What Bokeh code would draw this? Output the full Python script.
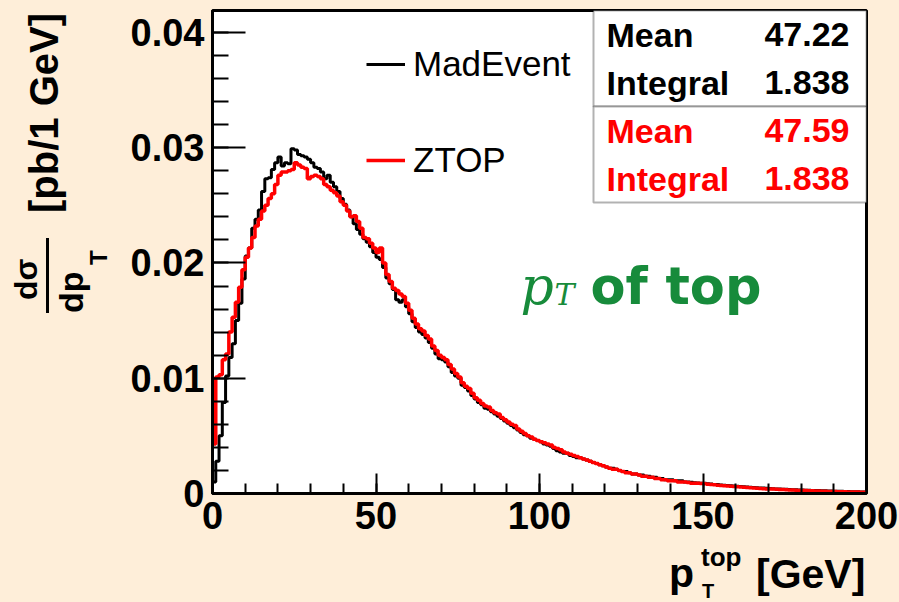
import numpy as np
from bokeh.plotting import figure
from bokeh.layouts import row, column
from bokeh.models import (FixedTicker, CustomJSTickFormatter, Label, BoxAnnotation,
                          Legend, LegendItem, Div)
from bokeh.embed import file_html
from bokeh.resources import INLINE

# ---------------- data ----------------
bin_low = 0.0
bin_width = 1.0  # GeV

madevent = [
    0.0010, 0.0028, 0.0050, 0.0079, 0.0102, 0.0118, 0.0130, 0.0150, 0.0165, 0.0186,
    0.0206, 0.0213, 0.0230, 0.0238, 0.0246, 0.0262, 0.0273, 0.0274, 0.0281, 0.0287,
    0.0292, 0.0284, 0.0287, 0.0286, 0.0299, 0.0298, 0.0294, 0.0293, 0.0292, 0.0290,
    0.0287, 0.0283, 0.0282, 0.0279, 0.0273, 0.0276, 0.0270, 0.0266, 0.0262, 0.0256,
    0.0251, 0.0246, 0.0240, 0.0234, 0.0229, 0.0225, 0.0221, 0.0218, 0.0214, 0.0209,
    0.0205, 0.0203, 0.0196, 0.0187, 0.0182, 0.0177, 0.0168, 0.0166, 0.0168, 0.0162,
    0.0156, 0.0149, 0.0144, 0.0140, 0.0138, 0.0135, 0.0131, 0.0126, 0.0121, 0.0117,
    0.0116, 0.0114, 0.0110, 0.0105, 0.0102, 0.0100, 0.0094, 0.0092, 0.0089, 0.0085,
    0.0082, 0.0079, 0.0077, 0.0074, 0.0073, 0.0071, 0.0069, 0.0067, 0.0065, 0.0063,
    0.0061, 0.0059, 0.0057, 0.0055, 0.0053, 0.0051, 0.0050, 0.0048, 0.0047, 0.0046,
    0.0045, 0.0043, 0.0042, 0.0041, 0.0039, 0.0037, 0.0036, 0.0035, 0.0035, 0.0033,
    0.0032, 0.0031, 0.0031, 0.0030, 0.0029, 0.0028, 0.0027, 0.0026, 0.0025, 0.0024,
    0.0023, 0.0022, 0.0022, 0.0021, 0.0020, 0.0019, 0.0019, 0.0018, 0.0017, 0.0017,
    0.0016, 0.0016, 0.0015, 0.0015, 0.0014, 0.0014, 0.0013, 0.0013, 0.0012, 0.0012,
    0.0012, 0.0011, 0.0011, 0.0011, 0.0010, 0.0010, 0.00098, 0.00094, 0.00092, 0.00090,
    0.00088, 0.00085, 0.00082, 0.00079, 0.00077, 0.00074, 0.00072, 0.00069, 0.00067, 0.00065,
    0.00062, 0.00060, 0.00058, 0.00056, 0.00054, 0.00052, 0.00050, 0.00048, 0.00047, 0.00045,
    0.00043, 0.00042, 0.00040, 0.00039, 0.00037, 0.00036, 0.00035, 0.00033, 0.00032, 0.00031,
    0.00030, 0.00029, 0.00028, 0.00027, 0.00026, 0.00025, 0.00024, 0.00023, 0.00022, 0.00021,
    0.00020, 0.00019, 0.00019, 0.00018, 0.00017, 0.00016, 0.00016, 0.00015, 0.00014, 0.00014,
]

ztop = [
    0.0043, 0.0101, 0.0103, 0.0116, 0.0121, 0.0140, 0.0153, 0.0166, 0.0179, 0.0194,
    0.0205, 0.0213, 0.0222, 0.0232, 0.0238, 0.0245, 0.0250, 0.0256, 0.0260, 0.0268,
    0.0276, 0.0279, 0.0279, 0.0280, 0.0281, 0.0287, 0.0285, 0.0283, 0.0282, 0.0273,
    0.0275, 0.0276, 0.0275, 0.0273, 0.0268, 0.0266, 0.0263, 0.0261, 0.0258, 0.0253,
    0.0250, 0.0245, 0.0240, 0.0241, 0.0236, 0.0230, 0.0222, 0.0221, 0.0217, 0.0213,
    0.0209, 0.0213, 0.0200, 0.0190, 0.0184, 0.0178, 0.0176, 0.0173, 0.0171, 0.0165,
    0.0159, 0.0152, 0.0147, 0.0143, 0.0141, 0.0137, 0.0134, 0.0128, 0.0124, 0.0120,
    0.0118, 0.0116, 0.0112, 0.0108, 0.0104, 0.0101, 0.0096, 0.0093, 0.0091, 0.0087,
    0.0083, 0.0081, 0.0078, 0.0076, 0.0075, 0.0072, 0.0070, 0.0069, 0.0066, 0.0064,
    0.0062, 0.0060, 0.0059, 0.0056, 0.0054, 0.0052, 0.0050, 0.0049, 0.0047, 0.0046,
    0.0045, 0.0044, 0.0043, 0.0042, 0.0040, 0.0039, 0.0038, 0.0036, 0.0035, 0.0034,
    0.0033, 0.0032, 0.0031, 0.0030, 0.0029, 0.0028, 0.0027, 0.0026, 0.0025, 0.0024,
    0.0023, 0.0022, 0.0021, 0.0021, 0.0020, 0.0019, 0.0018, 0.0018, 0.0017, 0.0017,
    0.0016, 0.0015, 0.0015, 0.0014, 0.0014, 0.0013, 0.0013, 0.0012, 0.0012, 0.0011,
    0.0011, 0.0011, 0.0010, 0.0010, 0.0010, 0.00095, 0.00090, 0.00090, 0.00088, 0.00086,
    0.00084, 0.00080, 0.00078, 0.00075, 0.00072, 0.00070, 0.00068, 0.00065, 0.00063, 0.00060,
    0.00058, 0.00056, 0.00054, 0.00052, 0.00050, 0.00048, 0.00046, 0.00044, 0.00042, 0.00040,
    0.00039, 0.00038, 0.00036, 0.00035, 0.00034, 0.00033, 0.00031, 0.00030, 0.00029, 0.00027,
    0.00026, 0.00025, 0.00024, 0.00023, 0.00022, 0.00021, 0.00020, 0.00019, 0.00018, 0.00018,
    0.00017, 0.00016, 0.00015, 0.00015, 0.00014, 0.00013, 0.00013, 0.00012, 0.00011, 0.00010,
]

series_names = ["MadEvent", "ZTOP"]
series_colors = ["black", "red"]

x_major = [0, 50, 100, 150, 200]
x_minor = [v for v in range(0, 201, 10)]
y_major = [0, 0.01, 0.02, 0.03, 0.04]
y_minor = [round(0.002 * k, 4) for k in range(0, 21)]

stat_names = ["Mean", "Integral", "Mean", "Integral"]
stat_values = ["47.22", "1.838", "47.59", "1.838"]
stat_colors = ["black", "black", "red", "red"]

# ---------------- layout constants ----------------
W, H = 899, 602
YDIV_W = 120          # left strip holding the y-axis title
XDIV_H = 54           # bottom strip holding the x-axis title
FIG_W, FIG_H = W - YDIV_W, H - XDIV_H
FL, FR, FT, FB = 212, 866, 10, 493   # frame edges in page pixels
XMIN, XMAX = 0.0, 200.0
YMIN, YMAX = 0.0, 0.0419
BG = "#FEEED9"
FONT = "Liberation Sans"
ASC = 0.8465  # baseline offset (in em) from top of a line-height:1 box


def dx(px):
    return XMIN + (px - FL) / (FR - FL) * (XMAX - XMIN)


def dy(py):
    return YMIN + (FB - py) / (FB - FT) * (YMAX - YMIN)


fig = figure(width=FIG_W, height=FIG_H, x_range=(XMIN, XMAX), y_range=(YMIN, YMAX),
             output_backend="svg", toolbar_location=None,
             min_border_left=FL - YDIV_W, min_border_right=W - FR,
             min_border_top=FT, min_border_bottom=FIG_H - FB)
fig.background_fill_color = "white"
fig.border_fill_color = BG
fig.outline_line_color = "black"
fig.outline_line_width = 3
fig.xgrid.grid_line_color = None
fig.ygrid.grid_line_color = None

# axes
fig.xaxis.ticker = FixedTicker(ticks=x_major, minor_ticks=x_minor)
fig.yaxis.ticker = FixedTicker(ticks=y_major, minor_ticks=y_minor)
fig.yaxis.formatter = CustomJSTickFormatter(code="return tick == 0 ? '0' : tick.toFixed(2);")
for ax, tin, mtin in ((fig.xaxis, 20, 10), (fig.yaxis, 33, 16)):
    ax.axis_line_width = 3
    ax.axis_line_color = "black"
    ax.major_tick_in = tin
    ax.major_tick_out = 0
    ax.minor_tick_in = mtin
    ax.minor_tick_out = 0
    ax.major_tick_line_width = 2
    ax.minor_tick_line_width = 2
    ax.major_label_text_font = FONT
    ax.major_label_text_font_style = "bold"
    ax.major_label_text_font_size = "38px"
    ax.major_label_text_color = "black"
    ax.major_label_standoff = 8

# histograms
renderers = []
for vals, col, lw in ((madevent, series_colors[0], 3), (ztop, series_colors[1], 3.5)):
    edges = bin_low + bin_width * np.arange(len(vals) + 1)
    yy = list(vals) + [vals[-1]]
    r = fig.step(edges, yy, mode="after", line_color=col, line_width=lw)
    renderers.append(r)

legend = Legend(items=[LegendItem(label=series_names[i], renderers=[renderers[i]]) for i in range(2)],
                location=(366 - FL, FB - 180), orientation="vertical",
                padding=0, margin=0, spacing=56, glyph_width=39, glyph_height=40,
                label_height=40, label_standoff=8,
                label_text_font=FONT, label_text_font_size="35px", label_text_color="black",
                background_fill_alpha=0, border_line_color=None)
fig.add_layout(legend)

# stats boxes
fig.add_layout(BoxAnnotation(left=dx(593), right=XMAX, top=YMAX, bottom=dy(106),
                             fill_color="white", fill_alpha=1, line_color="black", line_width=2))
fig.add_layout(BoxAnnotation(left=dx(593), right=XMAX, top=dy(106), bottom=dy(202),
                             fill_color="white", fill_alpha=1, line_color="black", line_width=2))
row_y = [34, 82, 130, 178]
for name, val, col, ry in zip(stat_names, stat_values, stat_colors, row_y):
    fig.add_layout(Label(x=dx(606), y=dy(ry), text=name, text_align="left", text_baseline="middle",
                         text_font=FONT, text_font_style="bold", text_font_size="34px", text_color=col))
    fig.add_layout(Label(x=dx(849), y=dy(ry), text=val, text_align="right", text_baseline="middle",
                         text_font=FONT, text_font_style="bold", text_font_size="34px", text_color=col))

# green annotation "p_T of top"
GREEN = "#178B3B"
fig.add_layout(Label(x=dx(520), y=dy(285), text="p", text_font="DejaVu Serif",
                     text_font_style="italic", text_font_size="52px", text_color=GREEN,
                     text_baseline="alphabetic", text_align="left"))
fig.add_layout(Label(x=dx(554), y=dy(294), text="T", text_font="DejaVu Serif",
                     text_font_style="italic", text_font_size="30px", text_color=GREEN,
                     text_baseline="alphabetic", text_align="left"))
fig.add_layout(Label(x=dx(590), y=dy(286), text="of top", text_font="DejaVu Sans",
                     text_font_style="bold", text_font_size="51px", text_color=GREEN,
                     text_baseline="alphabetic", text_align="left"))


# ---------------- axis titles (HTML text, outside the plot frame) ----------------
def span(text, left, baseline, size, rotate=False):
    """Absolutely positioned bold text; for rotated text 'baseline' is an x position
    and 'left' is the y position where the (upward-running) text starts."""
    if rotate:
        return (f'<span style="position:absolute;left:{baseline - ASC * size:.1f}px;'
                f'top:{left:.1f}px;font-size:{size}px;line-height:1;white-space:nowrap;'
                f'transform-origin:0 0;transform:rotate(-90deg);">{text}</span>')
    return (f'<span style="position:absolute;left:{left:.1f}px;top:{baseline - ASC * size:.1f}px;'
            f'font-size:{size}px;line-height:1;white-space:nowrap;">{text}</span>')


def box(inner, w, h):
    return (f'<div style="position:relative;width:{w}px;height:{h}px;overflow:visible;'
            f'font-family:\'{FONT}\';font-weight:bold;color:black;">{inner}</div>')


y_title = box(
    span("dσ", 300, 37, 32, rotate=True)
    + '<div style="position:absolute;left:46px;top:238px;width:3px;height:75px;background:black;"></div>'
    + span("dp", 313, 83, 34, rotate=True)
    + span("T", 265, 107, 24, rotate=True)
    + span("[pb/1 GeV]", 213, 58, 40, rotate=True),
    YDIV_W, FIG_H)

x0 = FIG_H  # page y of the top of the x-title strip
x_title = box(
    span("p", 669, 588 - x0, 41)
    + span("top", 701, 566 - x0, 26)
    + span("T", 702, 598 - x0, 20)
    + span("[GeV]", 756, 589 - x0, 41),
    W, XDIV_H)

ydiv = Div(text=y_title, width=YDIV_W, height=FIG_H, margin=0,
           styles={"background-color": BG, "overflow": "visible"})
xdiv = Div(text=x_title, width=W, height=XDIV_H, margin=0,
           styles={"background-color": BG, "overflow": "visible"})

p = column(row(ydiv, fig, spacing=0), xdiv, spacing=0,
           styles={"background-color": BG})

open("out.html", "w").write(file_html(p, INLINE))
